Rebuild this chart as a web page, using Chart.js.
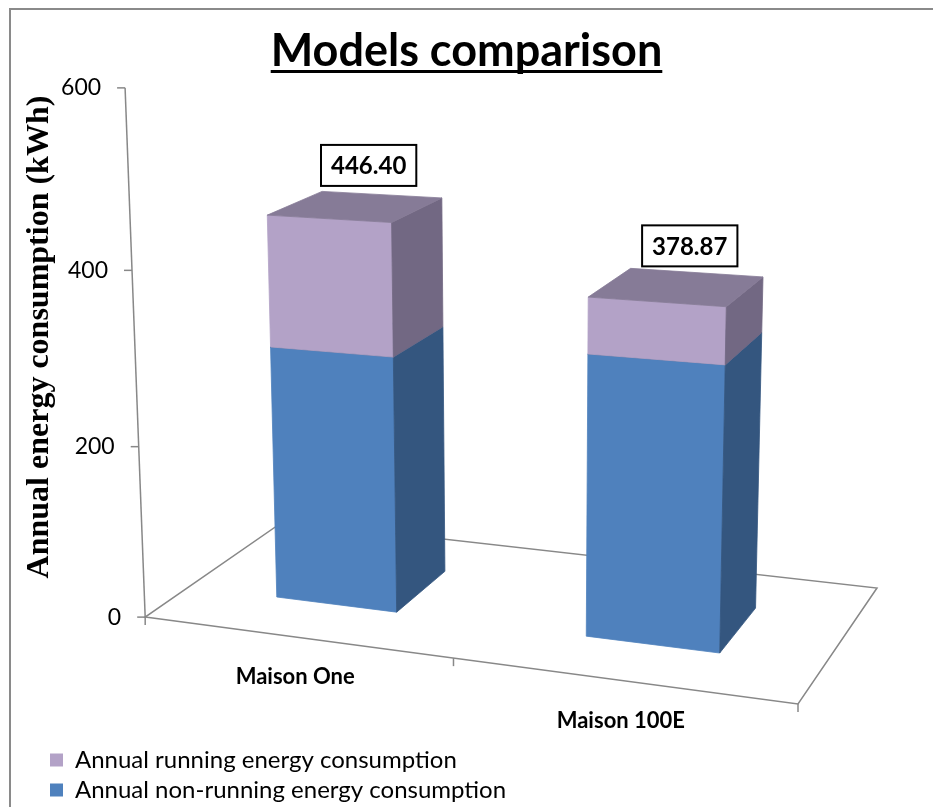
<!DOCTYPE html>
<html>
<head>
<meta charset="utf-8">
<script src="https://cdn.jsdelivr.net/npm/chart.js@4.4.1/dist/chart.umd.min.js"></script>
<style>
  html, body { margin: 0; padding: 0; background: #fff; }
  #wrap { width: 933px; height: 807px; position: relative; }
</style>
</head>
<body>
<div id="wrap"><canvas id="chart"></canvas></div>
<script>
// données
const categories = ['Maison One', 'Maison 100E'];
const nonRunning = [296.0, 317.0];
const running = [150.4, 61.87];
const yMax = 600;
const yStep = 200;

// repère de la vue 3D : coins du sol et axe des valeurs sur l'image
// monde : X = catégories (0..n), Y = valeur / yMax, Z = profondeur (0 devant, 1 derrière)
const viewFrame = [
  [0, 0, 0, 145, 617],
  [2, 0, 0, 798, 704],
  [2, 0, 1, 877, 588],
  [0, 0, 1, 284, 521],
  [0, 1 / 3, 0, 139, 447],
  [0, 2 / 3, 0, 132, 270],
  [0, 1, 0, 125, 88]
];
const barDepth = [0.3, 0.7];

const faceColors = [
  { front: '#4F81BD', side: '#34567F', top: '#3E6796' },
  { front: '#B3A2C7', side: '#726883', top: '#867B97' }
];

const TITLE_SIZE = 45;
const TITLE_PAD = 24;

// caméra par moindres carrés (DLT), coordonnées image normalisées
const CX = 466, CY = 400, S = 466;
function solveCamera(pts) {
  const A = [], b = [];
  pts.forEach(([X, Y, Z, u0, v0]) => {
    const u = (u0 - CX) / S, v = (v0 - CY) / S;
    A.push([X, Y, Z, 1, 0, 0, 0, 0, -u * X, -u * Y, -u * Z]); b.push(u);
    A.push([0, 0, 0, 0, X, Y, Z, 1, -v * X, -v * Y, -v * Z]); b.push(v);
  });
  const n = 11;
  const M = [], r = [];
  for (let i = 0; i < n; i++) {
    M.push(new Array(n).fill(0)); r.push(0);
    for (let k = 0; k < A.length; k++) {
      r[i] += A[k][i] * b[k];
      for (let j = 0; j < n; j++) M[i][j] += A[k][i] * A[k][j];
    }
  }
  for (let c = 0; c < n; c++) {
    let p = c;
    for (let i = c + 1; i < n; i++) if (Math.abs(M[i][c]) > Math.abs(M[p][c])) p = i;
    [M[c], M[p]] = [M[p], M[c]];
    [r[c], r[p]] = [r[p], r[c]];
    for (let i = c + 1; i < n; i++) {
      const f = M[i][c] / M[c][c];
      for (let j = c; j < n; j++) M[i][j] -= f * M[c][j];
      r[i] -= f * r[c];
    }
  }
  const x = new Array(n).fill(0);
  for (let i = n - 1; i >= 0; i--) {
    let s = r[i];
    for (let j = i + 1; j < n; j++) s -= M[i][j] * x[j];
    x[i] = s / M[i][i];
  }
  return x;
}
const cam = solveCamera(viewFrame);

function project(X, Y, Z) {
  const c = cam;
  const w = c[8] * X + c[9] * Y + c[10] * Z + 1;
  return [
    (c[0] * X + c[1] * Y + c[2] * Z + c[3]) / w * S + CX,
    (c[4] * X + c[5] * Y + c[6] * Z + c[7]) / w * S + CY
  ];
}

function fillFace(ctx, pts, color) {
  ctx.beginPath();
  pts.forEach((p, i) => i ? ctx.lineTo(p[0], p[1]) : ctx.moveTo(p[0], p[1]));
  ctx.closePath();
  ctx.fillStyle = color;
  ctx.strokeStyle = color;
  ctx.lineWidth = 0.8;
  ctx.fill();
  ctx.stroke();
}

function line(ctx, a, b) {
  ctx.beginPath();
  ctx.moveTo(a[0], a[1]);
  ctx.lineTo(b[0], b[1]);
  ctx.stroke();
}

const bars3d = {
  id: 'bars3d',
  beforeDatasetsDraw(chart) {
    const ctx = chart.ctx, ca = chart.chartArea;
    const xs = chart.scales.x, ys = chart.scales.y;
    const n = categories.length;
    const toX = px => (px - ca.left) / ca.width * n;
    const toY = py => (ca.bottom - py) / ca.height;
    const [z0, z1] = barDepth;

    ctx.save();
    // sol
    ctx.strokeStyle = '#888888';
    ctx.lineWidth = 1.5;
    ctx.beginPath();
    [project(0, 0, 0), project(n, 0, 0), project(n, 0, 1), project(0, 0, 1)]
      .forEach((p, i) => i ? ctx.lineTo(p[0], p[1]) : ctx.moveTo(p[0], p[1]));
    ctx.closePath();
    ctx.stroke();

    // axe des valeurs
    line(ctx, project(0, 0, 0), project(0, 1, 0));
    ctx.font = '23px Lato';
    ctx.fillStyle = '#000';
    ctx.textAlign = 'right';
    ctx.textBaseline = 'middle';
    ys.ticks.forEach(t => {
      const p = project(0, toY(ys.getPixelForValue(t.value)), 0);
      line(ctx, p, [p[0] - 8, p[1]]);
      ctx.fillText(t.label, p[0] - 24, p[1]);
    });

    // graduations et libellés des catégories
    for (let i = 0; i <= n; i++) {
      const p = project(i, 0, 0);
      line(ctx, p, [p[0], p[1] + 8]);
    }
    ctx.font = 'bold 22px Lato';
    ctx.textAlign = 'center';
    xs.getLabels().forEach((lab, i) => {
      const p = project(toX(xs.getPixelForValue(i)), 0, 0);
      ctx.fillText(lab, p[0], p[1] + 40);
    });

    // barres 3D
    chart.data.datasets.forEach((ds, d) => {
      const col = faceColors[d];
      chart.getDatasetMeta(d).data.forEach(el => {
        const x0 = toX(el.x - el.width / 2), x1 = toX(el.x + el.width / 2);
        const y0 = toY(el.base), y1 = toY(el.y);
        fillFace(ctx, [project(x0, y0, z0), project(x1, y0, z0), project(x1, y1, z0), project(x0, y1, z0)], col.front);
        fillFace(ctx, [project(x1, y0, z0), project(x1, y0, z1), project(x1, y1, z1), project(x1, y1, z0)], col.side);
        fillFace(ctx, [project(x0, y1, z0), project(x1, y1, z0), project(x1, y1, z1), project(x0, y1, z1)], col.top);
      });
    });

    // étiquettes des totaux
    const last = chart.getDatasetMeta(chart.data.datasets.length - 1).data;
    ctx.font = 'bold 24px Lato';
    ctx.textAlign = 'center';
    last.forEach((el, i) => {
      const total = nonRunning[i] + running[i];
      const p = project(toX(el.x), toY(ys.getPixelForValue(total)), 0.5);
      const cx = p[0] + 13, cy = p[1] - 41;
      const txt = total.toFixed(2);
      const w = ctx.measureText(txt).width + 20, h = 41;
      ctx.fillStyle = '#fff';
      ctx.fillRect(cx - w / 2, cy - h / 2, w, h);
      ctx.strokeStyle = '#000';
      ctx.lineWidth = 2;
      ctx.strokeRect(cx - w / 2, cy - h / 2, w, h);
      ctx.fillStyle = '#000';
      ctx.fillText(txt, cx, cy + 1);
    });
    ctx.restore();
    return false;
  },
  afterDraw(chart) {
    const ctx = chart.ctx;
    ctx.save();
    // soulignement du titre
    const tb = chart.titleBlock;
    const ty = tb.top + TITLE_PAD + TITLE_SIZE * 1.2 / 2;
    ctx.font = 'bold ' + TITLE_SIZE + 'px Lato';
    const tw = ctx.measureText(chart.options.plugins.title.text).width;
    const tx = (tb.left + tb.right) / 2;
    ctx.fillStyle = '#000';
    ctx.fillRect(tx - tw / 2, ty + 19, tw, 3);

    // titre de l'axe des valeurs
    ctx.translate(40, 337);
    ctx.rotate(-Math.PI / 2);
    ctx.font = 'bold 32px "Liberation Serif"';
    ctx.textAlign = 'center';
    ctx.textBaseline = 'middle';
    ctx.fillText('Annual energy consumption (kWh)', 0, 0);
    ctx.setTransform(1, 0, 0, 1, 0, 0);

    // cadre
    ctx.strokeStyle = '#8a8a8a';
    ctx.lineWidth = 2;
    ctx.beginPath();
    ctx.moveTo(10, 900);
    ctx.lineTo(10, 9);
    ctx.lineTo(1000, 9);
    ctx.stroke();
    ctx.restore();
  }
};

new Chart(document.getElementById('chart'), {
  type: 'bar',
  data: {
    labels: categories,
    datasets: [
      {
        label: 'Annual non-running energy consumption',
        data: nonRunning,
        backgroundColor: faceColors[0].front,
        borderWidth: 0,
        barPercentage: 0.4,
        categoryPercentage: 1.0
      },
      {
        label: 'Annual running energy consumption',
        data: running,
        backgroundColor: faceColors[1].front,
        borderWidth: 0,
        barPercentage: 0.4,
        categoryPercentage: 1.0
      }
    ]
  },
  options: {
    responsive: true,
    maintainAspectRatio: false,
    animation: false,
    layout: { padding: { left: 44, right: 44, top: 0, bottom: -5 } },
    scales: {
      x: {
        stacked: true,
        ticks: { display: false },
        grid: { display: false },
        border: { display: false }
      },
      y: {
        stacked: true,
        min: 0,
        max: yMax,
        ticks: { display: false, stepSize: yStep },
        grid: { display: false },
        border: { display: false }
      }
    },
    plugins: {
      tooltip: { enabled: false },
      title: {
        display: true,
        text: 'Models comparison',
        color: '#000',
        font: { family: 'Lato', size: TITLE_SIZE, weight: 'bold' },
        padding: { top: TITLE_PAD, bottom: 0 }
      },
      legend: {
        position: 'bottom',
        align: 'start',
        reverse: true,
        labels: {
          color: '#000',
          font: { family: 'Lato', size: 24 },
          boxWidth: 13,
          boxHeight: 13,
          padding: 6
        }
      }
    }
  },
  plugins: [bars3d]
});
</script>
</body>
</html>
